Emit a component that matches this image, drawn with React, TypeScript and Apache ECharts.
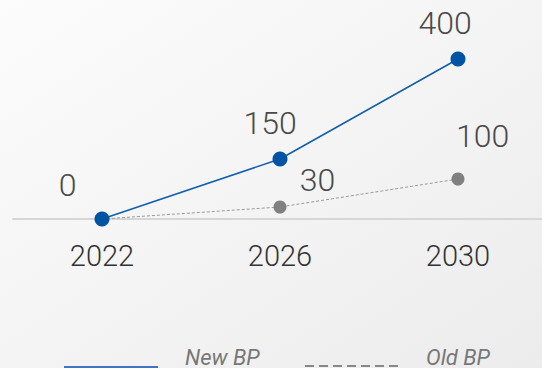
import React, { useEffect, useRef } from "react";
import * as echarts from "echarts";

const years = ["2022", "2026", "2030"];
const newBP = [0, 150, 400];
const oldBP = [0, 30, 100];
const seriesNames = ["New BP", "Old BP"];

const newOffsets: [number, number][] = [[-34.5, -34], [-10, -36], [-13, -36]];
const oldOffsets: [number, number][] = [[0, 0], [37.5, -27], [24.5, -43]];

export default function App() {
  const ref = useRef<HTMLDivElement>(null);
  useEffect(() => {
    if (!ref.current) return;
    const chart = echarts.init(ref.current, undefined, { renderer: "svg" });
    const labelBase = {
      show: true,
      position: "inside",
      fontFamily: "Roboto",
      fontWeight: 300,
      fontSize: 32,
      color: "#4a4a4a",
    };
    chart.setOption({
      animation: false,
      backgroundColor: new echarts.graphic.LinearGradient(0, 0, 1, 1, [
        { offset: 0, color: "#fcfcfc" },
        { offset: 1, color: "#ececec" },
      ]),
      grid: { left: 13, top: 59, width: 534, height: 160, containLabel: false },
      xAxis: {
        type: "category",
        data: years,
        boundaryGap: true,
        axisLine: { show: true, lineStyle: { color: "#d6d6d6", width: 2 } },
        axisTick: { show: false },
        axisLabel: {
          margin: 22,
          fontFamily: "Roboto",
          fontWeight: 300,
          fontSize: 29,
          color: "#333",
        },
      },
      yAxis: {
        type: "value",
        min: 0,
        max: 400,
        show: false,
        splitLine: { show: false },
      },
      series: [
        {
          name: seriesNames[1],
          type: "line",
          data: oldBP.map((v, i) => ({
            value: v,
            label: i === 0 ? { show: false } : { ...labelBase, offset: oldOffsets[i] },
          })),
          symbol: "circle",
          symbolSize: 13,
          itemStyle: { color: "#808080" },
          lineStyle: { color: "#9a9a9a", width: 1, type: [3, 2] },
          z: 2,
        },
        {
          name: seriesNames[0],
          type: "line",
          data: newBP.map((v, i) => ({
            value: v,
            label: { ...labelBase, offset: newOffsets[i] },
          })),
          symbol: "circle",
          symbolSize: 15,
          itemStyle: { color: "#0054a3" },
          lineStyle: { color: "#0f5fae", width: 1.5 },
          z: 3,
        },
      ],
      graphic: [
        {
          type: "line",
          shape: { x1: 64, y1: 367.5, x2: 158, y2: 367.5 },
          style: { stroke: "#4472c4", lineWidth: 3 },
        },
        {
          type: "text",
          x: 185,
          y: 357,
          style: {
            text: seriesNames[0],
            font: "italic 400 22px Roboto",
            fill: "#777",
            verticalAlign: "middle",
          },
        },
        {
          type: "line",
          shape: { x1: 305, y1: 366, x2: 398, y2: 366 },
          style: { stroke: "#888", lineWidth: 2, lineDash: [9, 5] },
        },
        {
          type: "text",
          x: 426,
          y: 357,
          style: {
            text: seriesNames[1],
            font: "italic 400 22px Roboto",
            fill: "#777",
            verticalAlign: "middle",
          },
        },
      ],
    });
    return () => chart.dispose();
  }, []);
  return (
    <div
      style={{
        position: "absolute",
        left: 0,
        top: 0,
        width: 542,
        height: 368,
        overflow: "hidden",
      }}
    >
      <div ref={ref} style={{ width: 548, height: 368 }} />
    </div>
  );
}
